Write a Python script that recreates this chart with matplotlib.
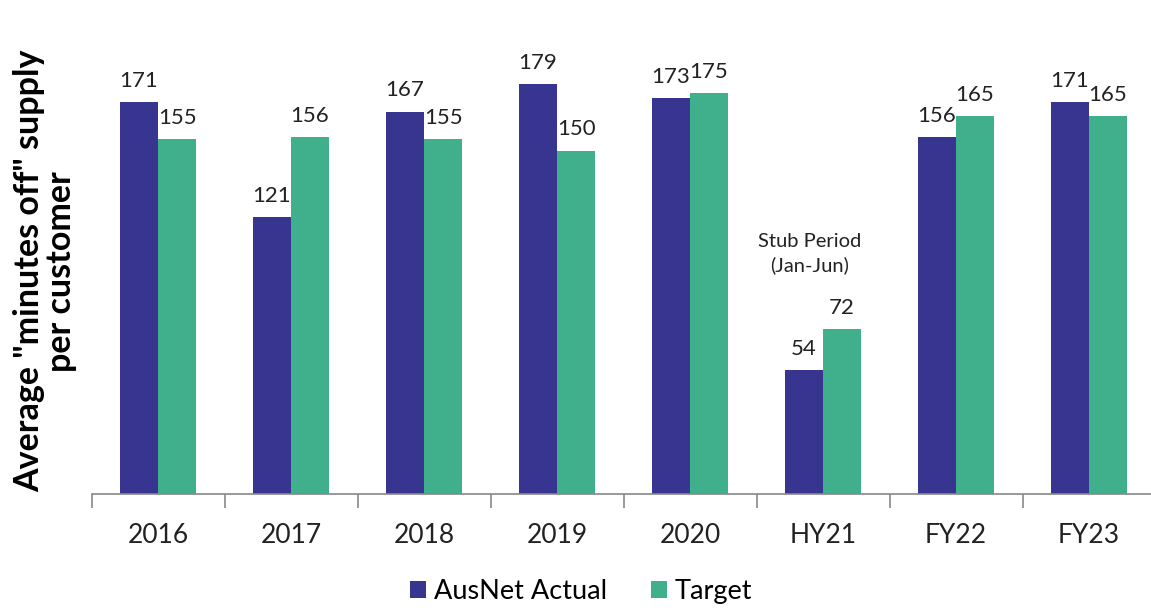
import numpy as np
import matplotlib
matplotlib.use('Agg')
import matplotlib.pyplot as plt

categories = ['2016', '2017', '2018', '2019', '2020', 'HY21', 'FY22', 'FY23']
actual = [171, 121, 167, 179, 173, 54, 156, 171]
target = [155, 156, 155, 150, 175, 72, 165, 165]

blue = '#383591'
green = '#40B08C'

plt.rcParams['font.family'] = ['Lato', 'DejaVu Sans']

fig = plt.figure(figsize=(11.51, 6.08), dpi=100)
ax = fig.add_axes([91.5 / 1151, 114 / 608, 1064 / 1151, 458 / 608])

x = np.arange(len(categories))
w = 0.286
b1 = ax.bar(x - w / 2, actual, w, color=blue, label='AusNet Actual')
b2 = ax.bar(x + w / 2, target, w, color=green, label='Target')

for bars, vals in [(b1, actual), (b2, target)]:
    for r, v in zip(bars, vals):
        ax.annotate(str(v), (r.get_x() + r.get_width() / 2, v),
                    xytext=(0, 8), textcoords='offset points',
                    ha='center', va='bottom', fontsize=16, color='#222222')

ax.text(5 - 0.1, 105, 'Stub Period\n(Jan-Jun)', ha='center', va='center',
        fontsize=14.5, color='#222222', linespacing=1.45)

ax.set_xlim(-0.5, len(categories) - 0.5)
ax.set_ylim(0, 200)
ax.set_yticks([])
for s in ['left', 'right', 'top']:
    ax.spines[s].set_visible(False)
ax.spines['bottom'].set_color('#888888')
ax.spines['bottom'].set_linewidth(1.2)

ax.set_xticks(x)
ax.set_xticklabels(categories, fontsize=19, color='#222222')
ax.tick_params(axis='x', length=0, pad=21)
ax.set_xticks(np.arange(len(categories) + 1) - 0.5, minor=True)
ax.tick_params(axis='x', which='minor', length=10, color='#888888', width=1.2)

fig.text(0.0395, 0.554, 'Average "minutes off" supply\nper customer', rotation=90,
         ha='center', va='center', fontsize=24.5, fontweight='bold',
         linespacing=1.0)

leg = fig.legend(handles=[b1, b2], loc='center', bbox_to_anchor=(0.505, 0.027),
                 ncol=2, frameon=False, fontsize=19.5, handlelength=0.6,
                 handleheight=0.6, handletextpad=0.3, columnspacing=1.6)

fig.savefig('out.png', dpi=100)
